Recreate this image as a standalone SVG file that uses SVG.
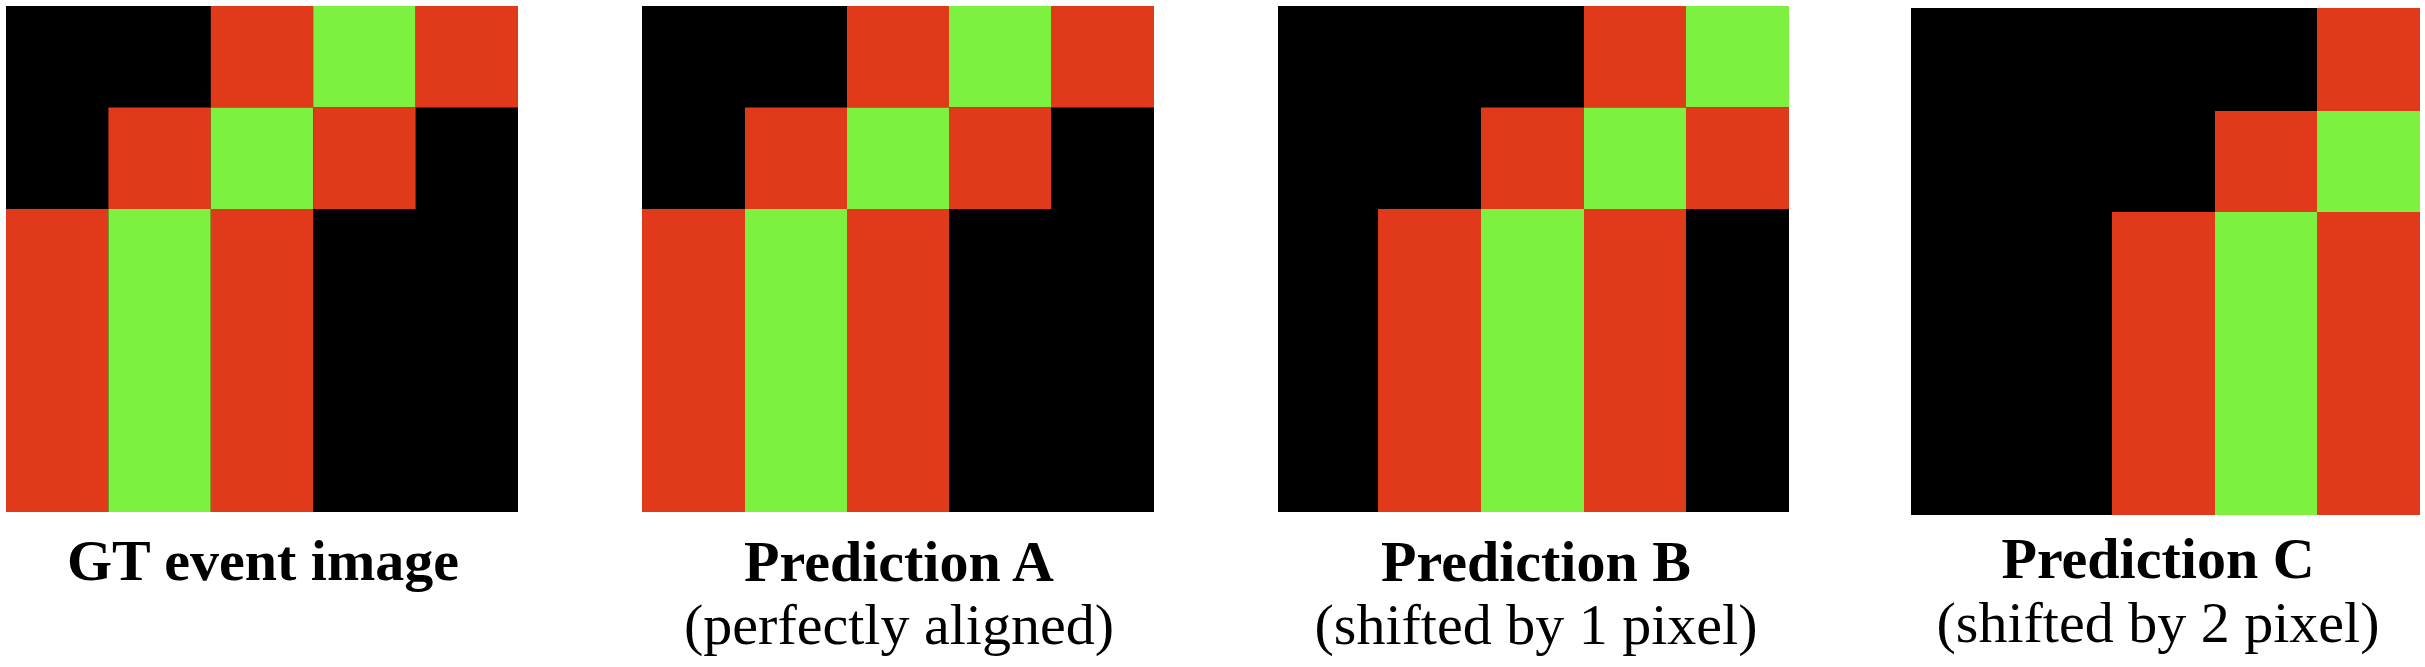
<svg xmlns="http://www.w3.org/2000/svg" width="2425" height="667" viewBox="0 0 2425 667">
  <style>
    .bk { fill: #000000; }
    .rd { fill: #E13A1B; }
    .gn { fill: #7DF13F; }
    .t { font-family: "Times New Roman", Times, "Liberation Serif", "Nimbus Roman", "Nimbus Roman No9 L", Tinos, FreeSerif, "DejaVu Serif", serif; font-size: 58px; text-anchor: middle; fill: #000000; }
    .b { font-weight: bold; }
  </style>
  <rect x="0" y="0" width="2425" height="667" fill="#ffffff"/>

  <g id="gt-event-image">
    <rect class="bk" x="6" y="6" width="512" height="506"/>
    <rect class="rd" x="210.8" y="6" width="102.4" height="101.5"/>
    <rect class="gn" x="313.2" y="6" width="102.4" height="101.5"/>
    <rect class="rd" x="415.6" y="6" width="102.4" height="101.5"/>
    <rect class="rd" x="108.4" y="107.5" width="102.4" height="101.5"/>
    <rect class="gn" x="210.8" y="107.5" width="102.4" height="101.5"/>
    <rect class="rd" x="313.2" y="107.5" width="102.4" height="101.5"/>
    <rect class="rd" x="6" y="209" width="102.4" height="303"/>
    <rect class="gn" x="108.4" y="209" width="102.4" height="303"/>
    <rect class="rd" x="210.8" y="209" width="102.4" height="303"/>
    <text class="t b" x="263" y="580">GT event image</text>
  </g>

  <g id="prediction-a">
    <rect class="bk" x="642" y="6" width="512" height="506"/>
    <rect class="rd" x="847" y="6" width="102" height="101.5"/>
    <rect class="gn" x="949" y="6" width="102" height="101.5"/>
    <rect class="rd" x="1051" y="6" width="103" height="101.5"/>
    <rect class="rd" x="745" y="107.5" width="102" height="101.5"/>
    <rect class="gn" x="847" y="107.5" width="102" height="101.5"/>
    <rect class="rd" x="949" y="107.5" width="102" height="101.5"/>
    <rect class="rd" x="642" y="209" width="103" height="303"/>
    <rect class="gn" x="745" y="209" width="102" height="303"/>
    <rect class="rd" x="847" y="209" width="102" height="303"/>
    <text class="t b" x="899" y="581">Prediction A</text>
    <text class="t" x="899" y="644">(perfectly aligned)</text>
  </g>

  <g id="prediction-b">
    <rect class="bk" x="1278" y="6" width="511" height="506"/>
    <rect class="rd" x="1584" y="6" width="102" height="101.5"/>
    <rect class="gn" x="1686" y="6" width="103" height="101.5"/>
    <rect class="rd" x="1481" y="107.5" width="103" height="101.5"/>
    <rect class="gn" x="1584" y="107.5" width="102" height="101.5"/>
    <rect class="rd" x="1686" y="107.5" width="103" height="101.5"/>
    <rect class="rd" x="1378" y="209" width="103" height="303"/>
    <rect class="gn" x="1481" y="209" width="103" height="303"/>
    <rect class="rd" x="1584" y="209" width="102" height="303"/>
    <text class="t b" x="1536" y="581">Prediction B</text>
    <text class="t" x="1536" y="644">(shifted by 1 pixel)</text>
  </g>

  <g id="prediction-c">
    <rect class="bk" x="1911" y="8" width="509" height="507"/>
    <rect class="rd" x="2317" y="8" width="103" height="103"/>
    <rect class="rd" x="2215" y="111" width="102" height="101"/>
    <rect class="gn" x="2317" y="111" width="103" height="101"/>
    <rect class="rd" x="2112" y="212" width="103" height="303"/>
    <rect class="gn" x="2215" y="212" width="102" height="303"/>
    <rect class="rd" x="2317" y="212" width="103" height="303"/>
    <text class="t b" x="2158" y="578">Prediction C</text>
    <text class="t" x="2158" y="642">(shifted by 2 pixel)</text>
  </g>
</svg>
